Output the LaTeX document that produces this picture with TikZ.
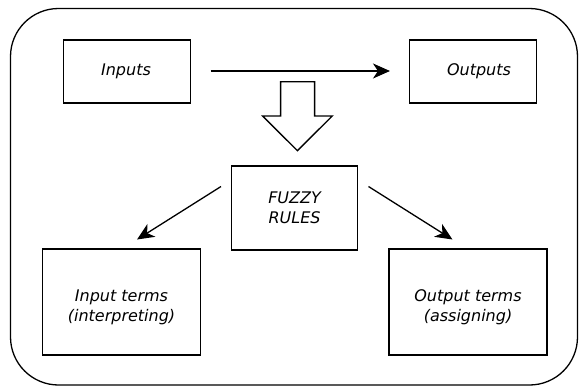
\documentclass[tikz,border=0pt]{standalone}
\usepackage{fontspec}
\setmainfont{DejaVu Sans}
\usetikzlibrary{arrows.meta}
\begin{document}
\begin{tikzpicture}[x=1pt,y=-1pt,
  lbl/.style={font=\fontsize{16}{20}\selectfont\itshape,align=center},
  box/.style={draw,line width=1.4pt,inner sep=0pt,lbl},
  conn/.style={line width=1.3pt,-{Stealth[length=17pt,width=15pt,inset=5pt]}}]
\useasboundingbox (0,0) rectangle (579,386);
\draw[line width=1.3pt,rounded corners=48pt] (10.5,8.5) rectangle (577.5,385);
\node[box,minimum width=127pt,minimum height=63pt] (in) at (126.8,71.5) {};
\node[lbl] (intx) at (126,71) {Inputs};
\node[box,minimum width=127pt,minimum height=63pt] (out) at (473.2,71.5) {};
\node[lbl] (outtx) at (479,71) {Outputs};
\node[box,minimum width=126pt,minimum height=84pt] (fz) at (294.6,207.8) {FUZZY\\RULES};
\node[box,minimum width=158pt,minimum height=106pt] (it) at (121.5,302) {};
\node[lbl] (ittx) at (121.5,307) {Input terms\\(interpreting)};
\node[box,minimum width=158pt,minimum height=106pt] (ot) at (467.9,302) {};
\node[lbl] (ottx) at (468,307) {Output terms\\(assigning)};
\coordinate (a1) at (210.5,71);
\coordinate (a2) at (390,71);
\coordinate (l1) at (221,186.5);
\coordinate (l2) at (137,239.5);
\coordinate (r1) at (368.5,186.5);
\coordinate (r2) at (452.5,239.5);
\draw[conn] (a1) -- (a2);
\draw[conn] (l1) -- (l2);
\draw[conn] (r1) -- (r2);
\draw[line width=1.3pt,line join=miter] (280.6,81.7) -- (314.6,81.7) -- (314.6,116) -- (332.2,116) -- (297.4,150.7) -- (262.6,116) -- (280.6,116) -- cycle;
\end{tikzpicture}
\end{document}
